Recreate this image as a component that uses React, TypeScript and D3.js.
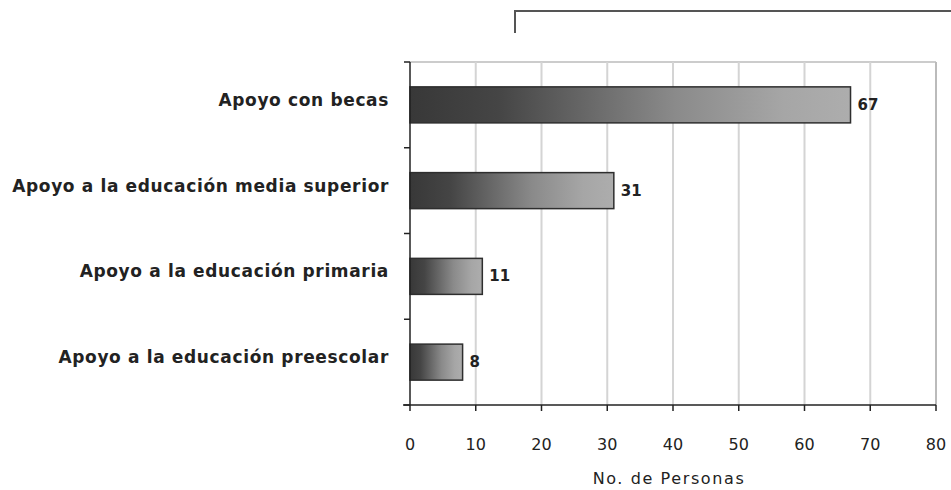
import React from "react";
import * as d3 from "d3";

const categories = [
  "Apoyo con becas",
  "Apoyo a la educación media superior",
  "Apoyo a la educación primaria",
  "Apoyo a la educación preescolar",
];
const values = [67, 31, 11, 8];
const xTicks = [0, 10, 20, 30, 40, 50, 60, 70, 80];
const xTitle = "No. de Personas";

const W = 951;
const H = 490;
const M = { left: 410, right: 936, top: 62, bottom: 405 };

export default function App() {
  const x = d3.scaleLinear().domain([0, 80]).range([M.left, M.right]);
  const y = d3
    .scaleBand<string>()
    .domain(categories)
    .range([M.top, M.bottom])
    .paddingInner(0.58)
    .paddingOuter(0.29);
  const step = (M.bottom - M.top) / categories.length;
  const catTicks = d3.range(categories.length + 1).map((i) => M.top + i * step);
  const font = "'DejaVu Sans', Verdana, sans-serif";

  return (
    <svg
      width={W}
      height={H}
      style={{ position: "absolute", left: 0, top: 0, background: "#fff" }}
    >
      <defs>
        <linearGradient id="barGrad" x1="0" y1="0" x2="1" y2="0">
          <stop offset="0" stopColor="#383838" />
          <stop offset="0.2" stopColor="#454545" />
          <stop offset="0.6" stopColor="#8a8a8a" />
          <stop offset="0.85" stopColor="#a6a6a6" />
          <stop offset="1" stopColor="#adadad" />
        </linearGradient>
      </defs>
      {/* top bracket */}
      <path d="M515,33 V11 H951" fill="none" stroke="#555" strokeWidth={2} />
      {/* top border */}
      <line x1={M.left} x2={M.right} y1={M.top} y2={M.top} stroke="#ccc" strokeWidth={2} />
      {/* gridlines */}
      {xTicks.slice(1).map((t) => (
        <line
          key={"g" + t}
          x1={x(t)}
          x2={x(t)}
          y1={M.top}
          y2={M.bottom}
          stroke={t === 80 ? "#bbb" : "#d4d4d4"}
          strokeWidth={2}
        />
      ))}
      {/* bars */}
      {categories.map((c, i) => {
        const cy = (y(c) as number) + y.bandwidth() / 2;
        return (
          <g key={c}>
            <rect
              x={x(0)}
              y={y(c)}
              width={x(values[i]) - x(0)}
              height={y.bandwidth()}
              fill="url(#barGrad)"
              stroke="#2e2e2e"
              strokeWidth={1.5}
            />
            <text
              x={x(values[i]) + 7}
              y={cy + 5}
              fontFamily={font}
              fontWeight="bold"
              fontSize={15}
              fill="#222"
            >
              {values[i]}
            </text>
            <text
              x={389}
              y={cy + 1}
              textAnchor="end"
              fontFamily={font}
              fontWeight="bold"
              fontSize={17}
              letterSpacing={0.65}
              fill="#222"
            >
              {c}
            </text>
          </g>
        );
      })}
      {/* y axis */}
      <line x1={M.left} x2={M.left} y1={M.top} y2={M.bottom} stroke="#222" strokeWidth={1.5} />
      {catTicks.map((t, i) => (
        <line key={"ct" + i} x1={M.left - 6} x2={M.left} y1={t} y2={t} stroke="#222" strokeWidth={1.5} />
      ))}
      {/* x axis */}
      <line x1={M.left - 7} x2={M.right} y1={M.bottom} y2={M.bottom} stroke="#222" strokeWidth={1.5} />
      {xTicks.map((t) => (
        <g key={"xt" + t}>
          <line x1={x(t)} x2={x(t)} y1={M.bottom} y2={M.bottom + 6} stroke="#222" strokeWidth={1.5} />
          <text
            x={x(t)}
            y={450}
            textAnchor="middle"
            fontFamily={font}
            fontSize={16}
            fill="#222"
          >
            {t}
          </text>
        </g>
      ))}
      <text
        x={669}
        y={484}
        textAnchor="middle"
        fontFamily={font}
        fontSize={16}
        letterSpacing={1.6}
        fill="#222"
      >
        {xTitle}
      </text>
    </svg>
  );
}
